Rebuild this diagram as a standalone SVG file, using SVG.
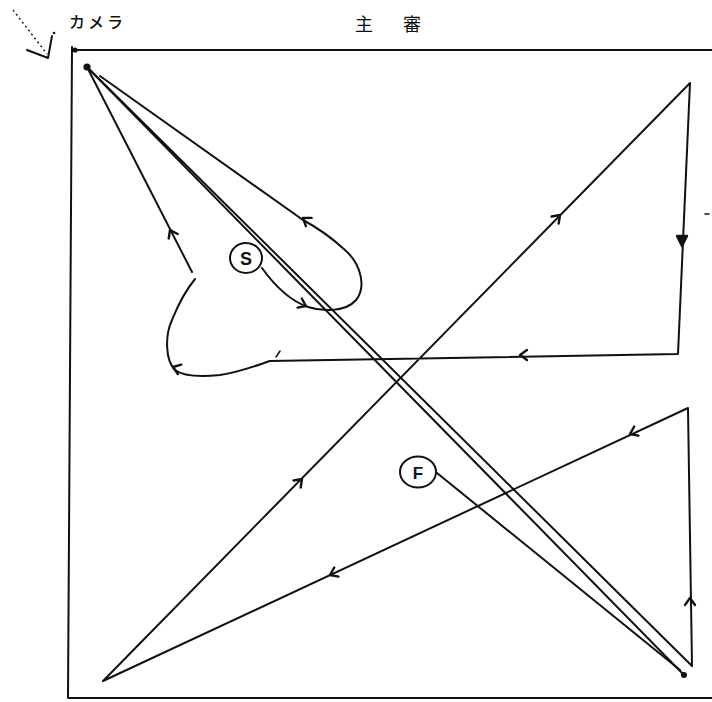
<svg xmlns="http://www.w3.org/2000/svg" xmlns:xlink="http://www.w3.org/1999/xlink" width="712" height="702" viewBox="0 0 712 702">
<style>
.ln{fill:none;stroke:#111;stroke-width:2;stroke-linecap:round;stroke-linejoin:round}
.ah{fill:none;stroke:#111;stroke-width:2.4;stroke-linecap:round;stroke-linejoin:round}
.lbl{font-family:"Noto Sans CJK JP","Noto Sans",sans-serif;fill:#111}
.nd{font-family:"Liberation Sans",Arial,sans-serif;font-weight:bold;fill:#111;text-anchor:middle}
</style>
<defs>
<path id="ah" d="M-7,-5 L0,0 L-7,5"/>
</defs>
<rect width="712" height="702" fill="#fff"/>
<g id="frame" class="ln">
<path d="M72,47 L68,697"/>
<path d="M74,50 L712,50"/>
<path d="M68,698 L712,698"/>
<circle cx="75" cy="50" r="1.6" fill="#111"/>
</g>
<g id="camera">
<path d="M13,10 L47,54" fill="none" stroke="#111" stroke-width="1.4" stroke-dasharray="2 3"/>
<path d="M27,50 L48,58 L52,36" class="ln" stroke-width="1.6"/>
<circle cx="54" cy="33" r="1.3" fill="#111"/>
<text class="lbl" x="69" y="28" font-size="16" font-weight="500" letter-spacing="3">カメラ</text>
</g>
<g id="referee">
<text class="lbl" x="355" y="31" font-size="18">主</text>
<text class="lbl" x="403" y="31" font-size="18">審</text>
</g>
<g id="node-S">
<ellipse cx="246" cy="258" rx="16" ry="15" class="ln"/>
<text class="nd" x="246" y="265" font-size="18">S</text>
</g>
<g id="node-F">
<ellipse cx="418" cy="472" rx="18" ry="15.5" class="ln"/>
<text class="nd" x="418" y="479" font-size="17">F</text>
</g>
<g id="connectors" class="ln">
<path d="M262,268 C272,282 288,300 308,307 C320,311 345,313 356,300 C366,288 362,265 345,250 C332,238 318,228 303,220 L100,76"/>
<path d="M87,67 L192,272"/>
<path d="M87,67 L692,666"/>
<path d="M87,67 L684,675"/>
<circle cx="87" cy="67" r="2.6" fill="#111"/>
<circle cx="684" cy="675" r="2" fill="#111"/>
<path d="M270,361 L678,354 L690,83 L103,681 L688,408 L692,666"/>
<path d="M270,361 C255,366 240,372 220,375 C200,377 183,376 175,370 C165,360 165,335 172,320 C178,305 186,290 195,279"/>
<path d="M276,357 L280,351" stroke-width="1.5"/>
<path d="M705,214 L709,214" stroke-width="1.5"/>
<path d="M437,473 L680,670"/>
</g>
<g id="arrowheads" class="ah">
<use xlink:href="#ah" transform="translate(170,230) rotate(-117)"/>
<use xlink:href="#ah" transform="translate(303,218) rotate(-145)"/>
<use xlink:href="#ah" transform="translate(306,306) rotate(25)"/>
<use xlink:href="#ah" transform="translate(560,215) rotate(-45.6)"/>
<use xlink:href="#ah" transform="translate(302,479) rotate(-45.6)"/>
<use xlink:href="#ah" transform="translate(520,355) rotate(180)"/>
<use xlink:href="#ah" transform="translate(173,367) rotate(-160)"/>
<use xlink:href="#ah" transform="translate(630,434) rotate(155)"/>
<use xlink:href="#ah" transform="translate(330,575) rotate(155)"/>
<use xlink:href="#ah" transform="translate(690,598) rotate(-90)"/>
<path d="M682,246 L677,236 L687,236 Z" fill="#111"/>
</g>
</svg>
